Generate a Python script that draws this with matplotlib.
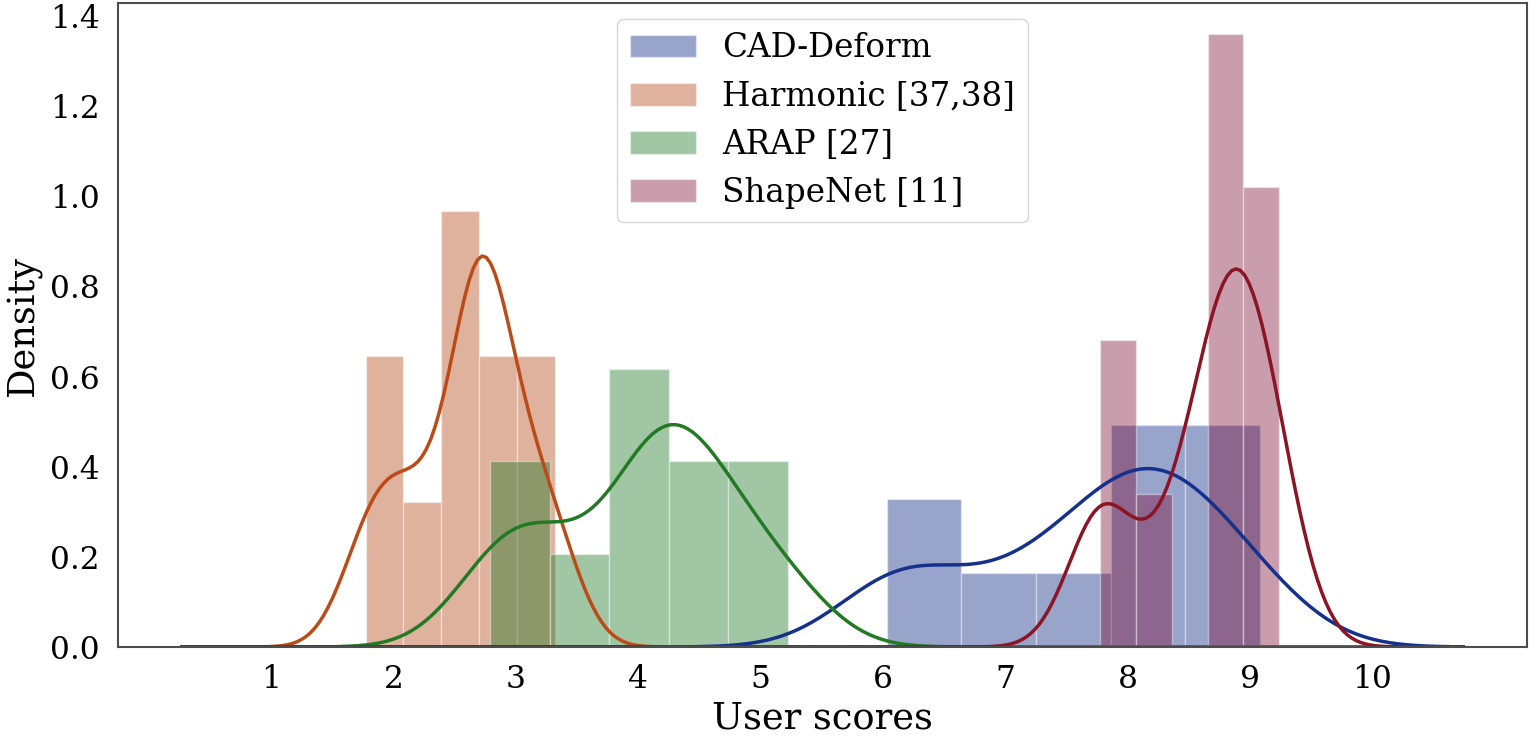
import matplotlib
matplotlib.use("Agg")
import matplotlib.pyplot as plt
import numpy as np

# user scores per method (10 ratings each), estimated from the histograms / density curves
names = ["CAD-Deform", "Harmonic [37,38]", "ARAP [27]", "ShapeNet [11]"]
cad_deform = [6.03, 6.30, 7.05, 7.50, 7.90, 8.00, 8.18, 8.50, 8.62, 9.08]
harmonic = [1.77, 2.00, 2.25, 2.62, 2.66, 2.69, 2.76, 2.85, 3.10, 3.32]
arap = [2.79, 3.05, 3.35, 3.95, 4.10, 4.20, 4.35, 4.55, 4.80, 5.22]
shapenet = [7.77, 7.80, 8.34, 8.66, 8.72, 8.82, 8.92, 8.98, 9.12, 9.24]
kde_bw = [0.50, 0.24, 0.40, 0.27]
x_ticks = [1, 2, 3, 4, 5, 6, 7, 8, 9, 10]

line_colors = ["#15318c", "#bb4b18", "#237a25", "#8c1424"]
fill_colors = ["#001c7f", "#b1400d", "#12711c", "#7a0a30"]

plt.rcParams["font.family"] = "DejaVu Serif"

series = [cad_deform, harmonic, arap, shapenet]
allv = np.concatenate([np.asarray(s) for s in series])
grid = np.linspace(allv.min() - 1.5, allv.max() + 1.5, 300)


def kde(samples, bw):
    s = np.asarray(samples)[:, None]
    z = (grid[None, :] - s) / bw
    return np.exp(-0.5 * z ** 2).sum(0) / (len(samples) * bw * np.sqrt(2 * np.pi))


fig = plt.figure(figsize=(15.31, 7.36), dpi=100)
ax = fig.add_axes([118 / 1531, 1 - 647 / 736, (1527 - 118) / 1531, (647 - 3) / 736])

for data, name, bw, lc, fc in zip(series, names, kde_bw, line_colors, fill_colors):
    ax.hist(data, bins=5, density=True, color=fc, alpha=0.4, label=name,
            edgecolor="white", linewidth=1)
    ax.plot(grid, kde(data, bw), color=lc, lw=2.5)

ax.set_xticks(x_ticks)
ax.tick_params(length=0, labelsize=22.5)
ax.tick_params(axis="x", pad=12)
ax.tick_params(axis="y", pad=13)
for sp in ax.spines.values():
    sp.set_color("0.3")
    sp.set_linewidth(1.5)

ax.set_xlabel("User scores", fontsize=26.5, labelpad=4)
ax.set_ylabel("Density", fontsize=26.5, labelpad=6)

leg = ax.legend(loc="upper center", fontsize=23.5, frameon=True, fancybox=True,
                edgecolor="0.8", framealpha=0.8)

fig.savefig("out.png", dpi=100)
